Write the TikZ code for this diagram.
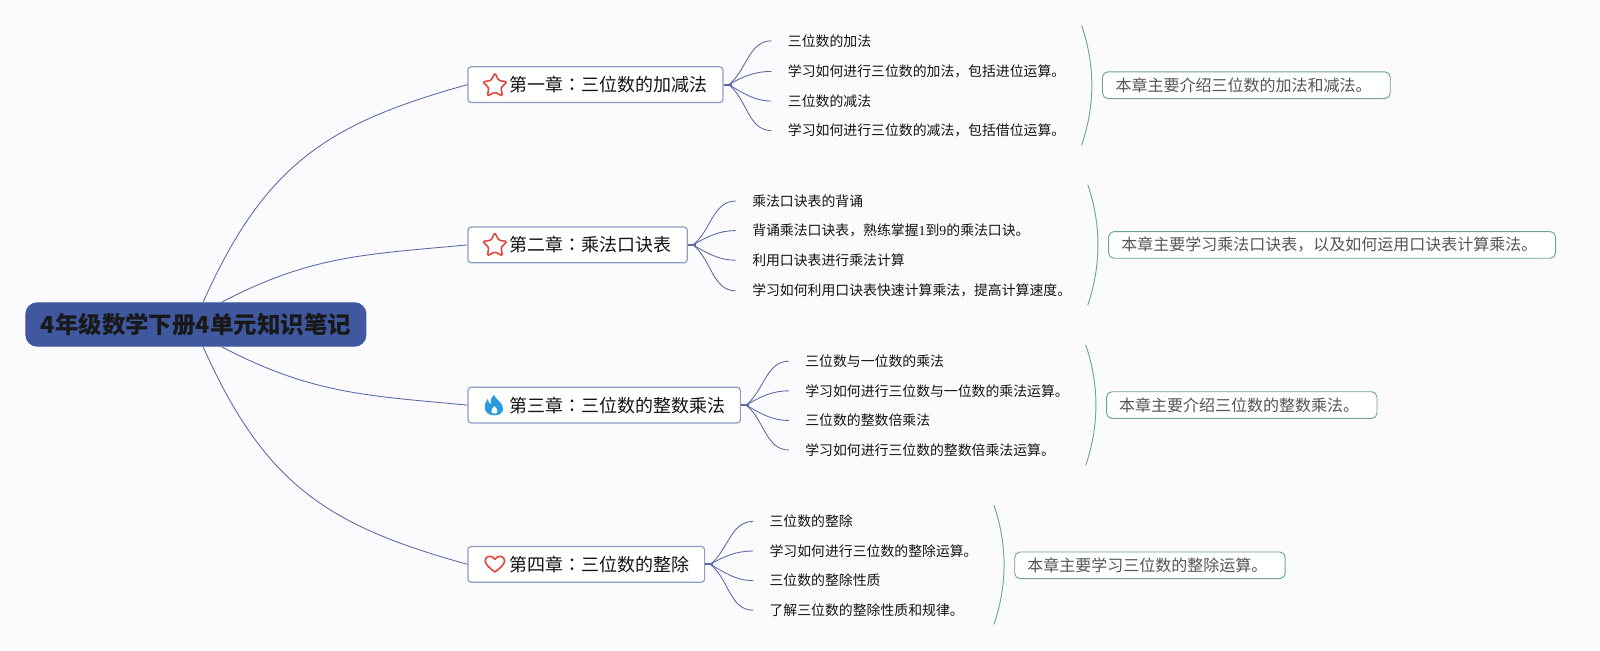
\documentclass[tikz,border=0pt]{standalone}
\usepackage{fontspec}
\setmainfont{Noto Sans CJK SC}
\newfontfamily\cjktc{Noto Sans CJK TC}
\newfontfamily\latinserif{Liberation Serif}
\usetikzlibrary{shapes.geometric,calc}
\newcommand{\ccolon}{{\cjktc ：}}
\definecolor{bgc}{HTML}{FBFBFD}
\definecolor{rootfill}{HTML}{3F58A0}
\definecolor{chline}{HTML}{8F9CC4}
\definecolor{conn}{HTML}{5A6AA6}
\definecolor{sumline}{HTML}{6FA491}
\definecolor{sumtext}{HTML}{555555}
\definecolor{iconred}{HTML}{E0483A}
\definecolor{iconblue}{HTML}{2A9AE0}
\tikzset{
  x=0.7653pt,y=-0.7653pt,
  rootbox/.style={draw=rootfill,fill=rootfill,rounded corners=8.5pt,line width=0.8pt,minimum width=255pt,minimum height=32.5pt,inner sep=0pt,text=black!90,font=\fontsize{17.6pt}{20pt}\selectfont\bfseries},
  chbox/.style={draw=chline,fill=white,rounded corners=2.5pt,line width=0.9pt,anchor=west,minimum height=26.8pt,inner xsep=0pt,inner ysep=0pt,align=left,text=black!92,font=\fontsize{13.5pt}{16pt}\selectfont},
  leaf/.style={anchor=west,inner xsep=12.2pt,inner ysep=2pt,text=black!92,font=\fontsize{10.4pt}{12pt}\selectfont},
  sumbox/.style={draw=sumline,fill=white,rounded corners=4pt,line width=0.7pt,anchor=west,minimum height=20pt,inner sep=0pt,text=sumtext,font=\fontsize{12pt}{14pt}\selectfont},
  conline/.style={draw=conn,line width=0.65pt},
  stub/.style={draw=conn,line width=1.5pt},
  bracket/.style={draw=sumline,line width=0.7pt},
  stariconn/.style={draw=iconred,line width=1.2pt,shape=star,star points=5,star point ratio=1.95,minimum size=19pt,inner sep=0pt,rounded corners=1pt},
}
\begin{document}
\begin{tikzpicture}
\useasboundingbox[fill=bgc] (0,0) rectangle (1568,637);

% root
\node[rootbox] (root) at (192,318) {4年级数学下册4单元知识笔记};

% chapters
\node[chbox,text width=191.3pt] (c1) at (458,83) {\hspace*{31.4pt}第一章\ccolon 三位数的加减法};
\node[chbox,text width=164.5pt] (c2) at (458,240) {\hspace*{31.4pt}第二章\ccolon 乘法口诀表};
\node[chbox,text width=204.3pt] (c3) at (458,397) {\hspace*{31.4pt}第三章\ccolon 三位数的整数乘法};
\node[chbox,text width=177.5pt] (c4) at (458,553) {\hspace*{31.4pt}第四章\ccolon 三位数的整除};

% icons
\node[stariconn] (i1) at (485,84) {};
\node[stariconn] (i2) at (485,240.5) {};
\fill[iconblue] (484,387) .. controls (486,392) and (493,394) .. (493,401) .. controls (493,405) and (489,407) .. (484.5,407)
  .. controls (479,407) and (475,404) .. (475,399) .. controls (475,395) and (477,393) .. (478,391)
  .. controls (478.5,394) and (479.5,395.5) .. (481,396) .. controls (480.5,392) and (481.5,389) .. (484,387) -- cycle;
\fill[white] (484.5,398) .. controls (486,400) and (488,401) .. (487.5,403.5) .. controls (487,406) and (482,406) .. (481.5,403.5) .. controls (481,401) and (483.5,400) .. (484.5,398) -- cycle;
\draw[iconred,line width=1.2pt,line join=round] (485,560.5) .. controls (480,557) and (475.5,553) .. (475.5,549.5)
  .. controls (475.5,544.5) and (482,543.5) .. (485,548) .. controls (488,543.5) and (494.5,544.5) .. (494.5,549.5)
  .. controls (494.5,553) and (490,557) .. (485,560.5) -- cycle;

% leaves
\node[leaf] (l11) at (756,40) {三位数的加法};
\node[leaf] (l12) at (756,70) {学习如何进行三位数的加法，包括进位运算。};
\node[leaf] (l13) at (756,99) {三位数的减法};
\node[leaf] (l14) at (756,128) {学习如何进行三位数的减法，包括借位运算。};
\node[leaf] (l21) at (721,197) {乘法口诀表的背诵};
\node[leaf] (l22) at (721,226) {背诵乘法口诀表，熟练掌握{\latinserif 1}到{\latinserif 9}的乘法口诀。};
\node[leaf] (l23) at (721,255) {利用口诀表进行乘法计算};
\node[leaf] (l24) at (721,285) {学习如何利用口诀表快速计算乘法，提高计算速度。};
\node[leaf] (l31) at (773,354) {三位数与一位数的乘法};
\node[leaf] (l32) at (773,383) {学习如何进行三位数与一位数的乘法运算。};
\node[leaf] (l33) at (773,412) {三位数的整数倍乘法};
\node[leaf] (l34) at (773,441) {学习如何进行三位数的整数倍乘法运算。};
\node[leaf] (l41) at (738,511) {三位数的整除};
\node[leaf] (l42) at (738,540) {学习如何进行三位数的整除运算。};
\node[leaf] (l43) at (738,569) {三位数的整除性质};
\node[leaf] (l44) at (738,598) {了解三位数的整除性质和规律。};

% summaries
\node[sumbox,minimum width=215.8pt] (s1) at (1080,83.5) {本章主要介绍三位数的加法和减法。\hspace*{4pt}};
\node[sumbox,minimum width=335.2pt] (s2) at (1086,240) {本章主要学习乘法口诀表，以及如何运用口诀表计算乘法。\hspace*{4pt}};
\node[sumbox,minimum width=202.8pt] (s3) at (1084,397) {本章主要介绍三位数的整数乘法。\hspace*{4pt}};
\node[sumbox,minimum width=202.8pt] (s4) at (994,554) {本章主要学习三位数的整除运算。\hspace*{4pt}};

% root connectors
\draw[conline] ($(root.north)+(7,0)$) .. controls ($(root.north)+(68,-137)$) and ($(c1.west)+(-135,37.5)$) .. (c1.west);
\draw[conline] ($(root.north)+(25,0)$) .. controls ($(root.north)+(113.6,-46.3)$) and ($(c2.west)+(-99.5,9.4)$) .. (c2.west);
\draw[conline] ($(root.south)+(25,0)$) .. controls ($(root.south)+(113.6,46.3)$) and ($(c3.west)+(-99.5,-9.4)$) .. (c3.west);
\draw[conline] ($(root.south)+(7,0)$) .. controls ($(root.south)+(68,137)$) and ($(c4.west)+(-135,-37.5)$) .. (c4.west);

% hubs
\coordinate (h1) at ($(c1.east)+(8,0)$);
\coordinate (h2) at ($(c2.east)+(8,0)$);
\coordinate (h3) at ($(c3.east)+(8,0)$);
\coordinate (h4) at ($(c4.east)+(8,0)$);
\draw[stub] (c1.east) -- (h1);
\draw[stub] (c2.east) -- (h2);
\draw[stub] (c3.east) -- (h3);
\draw[stub] (c4.east) -- (h4);

\foreach \h/\a/\b/\cc/\d in {h1/l11/l12/l13/l14,h2/l21/l22/l23/l24,h3/l31/l32/l33/l34,h4/l41/l42/l43/l44}{
  \draw[conline] ($(\h)+(-3,0)$) to[out=38,in=180,looseness=0.95] (\a.west);
  \draw[conline] ($(\h)+(-3,0)$) to[out=30,in=180,looseness=0.95] (\b.west);
  \draw[conline] ($(\h)+(-3,0)$) to[out=-30,in=180,looseness=0.95] (\cc.west);
  \draw[conline] ($(\h)+(-3,0)$) to[out=-38,in=180,looseness=0.95] (\d.west);
}

% brackets
\coordinate (b1a) at (1060,25);   \coordinate (b1b) at (1060,142);
\coordinate (b2a) at (1066,181);  \coordinate (b2b) at (1066,299);
\coordinate (b3a) at (1064,338);  \coordinate (b3b) at (1064,456);
\coordinate (b4a) at (974,495);   \coordinate (b4b) at (974,612);
\foreach \p/\q in {b1a/b1b,b2a/b2b,b3a/b3b,b4a/b4b}{
  \draw[bracket] (\p) .. controls ($(\p)!0.33!(\q)+(13.3,0)$) and ($(\p)!0.67!(\q)+(13.3,0)$) .. (\q);
}
\end{tikzpicture}
\end{document}
